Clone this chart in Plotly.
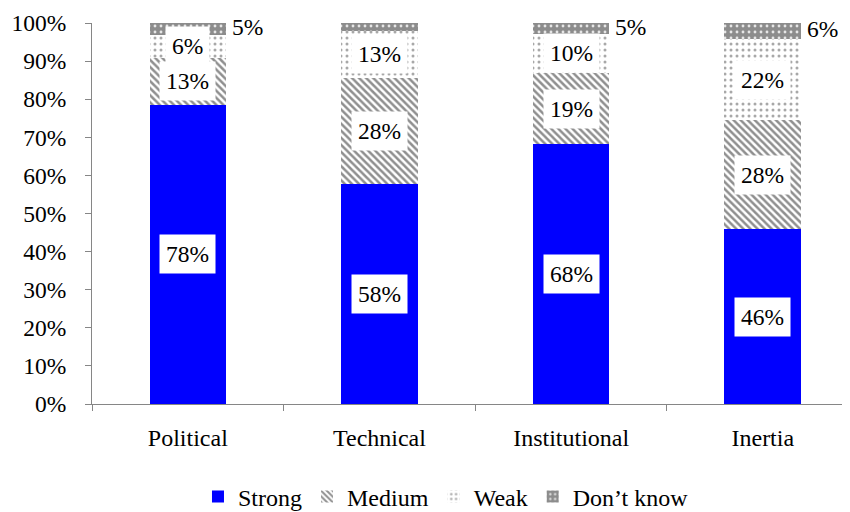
import plotly.graph_objects as go

categories = ["Political", "Technical", "Institutional", "Inertia"]
strong = [78.6, 57.7, 68.2, 45.9]
medium = [12.2, 27.9, 18.7, 28.6]
weak = [6.1, 12.3, 10.2, 21.3]
dont_know = [3.1, 2.1, 2.9, 4.2]

strong_lbl = ["78%", "58%", "68%", "46%"]
medium_lbl = ["13%", "28%", "19%", "28%"]
weak_lbl = ["6%", "13%", "10%", "22%"]
dk_lbl = ["5%", "", "5%", "6%"]

FONT = "Liberation Serif"

fig = go.Figure()
fig.add_trace(go.Bar(name="Strong", x=categories, y=strong,
                     marker=dict(color="#0000FF", line=dict(width=0))))
fig.add_trace(go.Bar(name="Medium", x=categories, y=medium,
                     marker=dict(color="white", line=dict(width=0),
                                 pattern=dict(shape="\\", fgcolor="#8f8f8f", bgcolor="white",
                                              size=5, solidity=0.5, fillmode="replace"))))
fig.add_trace(go.Bar(name="Weak", x=categories, y=weak,
                     marker=dict(color="white", line=dict(width=0),
                                 pattern=dict(shape=".", fgcolor="#a8a8a8", bgcolor="white",
                                              size=6, solidity=0.2, fillmode="replace"))))
fig.add_trace(go.Bar(name="Don\u2019t know", x=categories, y=dont_know,
                     marker=dict(color="#8c8c8c", line=dict(width=0),
                                 pattern=dict(shape=".", fgcolor="#e6e6e6", bgcolor="#8c8c8c",
                                              size=6, solidity=0.18, fillmode="replace"))))

annotations = []
for i, c in enumerate(categories):
    base = 0
    for vals, lbls in ((strong, strong_lbl), (medium, medium_lbl), (weak, weak_lbl)):
        mid = base + vals[i] / 2
        annotations.append(dict(x=c, y=mid, text=lbls[i], showarrow=False,
                                bgcolor="white", borderpad=6,
                                font=dict(family=FONT, size=23.5, color="black")))
        base += vals[i]
    if dk_lbl[i]:
        annotations.append(dict(x=c, y=base + dont_know[i] / 2 + 0.5, text=dk_lbl[i], showarrow=False,
                                xanchor="left", xshift=42,
                                font=dict(family=FONT, size=23.5, color="black")))

fig.update_layout(
    barmode="stack",
    bargap=0.6,
    width=842, height=504,
    margin=dict(l=84, r=0, t=15, b=108, autoexpand=False),
    plot_bgcolor="white", paper_bgcolor="white",
    font=dict(family=FONT, size=23, color="black"),
    annotations=annotations,
    showlegend=True,
    legend=dict(orientation="h", x=0.467, xanchor="center", y=-0.244, yanchor="middle",
                traceorder="normal",
                font=dict(family=FONT, size=24, color="black"),
                itemwidth=30, tracegroupgap=0),
)
fig.update_xaxes(range=[-0.5, 3.455], showline=True, linecolor="#868686", linewidth=1,
                 ticks="outside", tickson="boundaries", ticklen=6, tickcolor="#868686",
                 ticklabelstandoff=12, showgrid=False, automargin=False,
                 tickfont=dict(family=FONT, size=24, color="black"))
fig.update_yaxes(range=[0, 100], dtick=10, ticksuffix="%", showline=True, linecolor="#868686",
                 linewidth=1, ticks="outside", ticklen=6, tickcolor="#868686", showgrid=False,
                 zeroline=False, automargin=False, ticklabelstandoff=14,
                 tickfont=dict(family=FONT, size=23.5, color="black"))

fig.write_html("out.html")
